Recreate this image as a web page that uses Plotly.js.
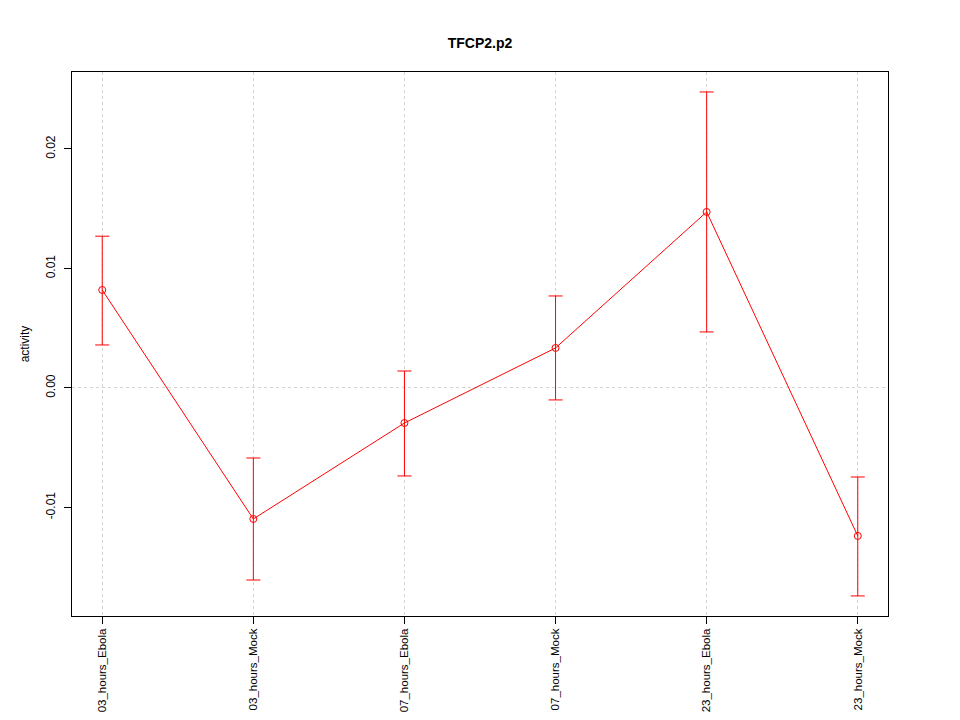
<!DOCTYPE html>
<html>
<head>
<meta charset="utf-8">
<script src="https://cdn.plot.ly/plotly-3.0.1.min.js"></script>
<style>html,body{margin:0;padding:0;background:#fff;}#chart{width:960px;height:720px;}</style>
</head>
<body>
<div id="chart"></div>
<script>
const categories = ["03_hours_Ebola","03_hours_Mock","07_hours_Ebola","07_hours_Mock","23_hours_Ebola","23_hours_Mock"];
const activity = [0.0082, -0.01096, -0.00293, 0.00335, 0.01473, -0.01238];
const upper = [0.0127, -0.00586, 0.00142, 0.0077, 0.02477, -0.00745];
const lower = [0.0036, -0.01607, -0.00736, -0.0010, 0.00469, -0.0174];
const yTicks = [-0.01, 0.00, 0.01, 0.02];
const yTickLabels = ["-0.01", "0.00", "0.01", "0.02"];

const errPlus = upper.map((u, i) => u - activity[i]);
const errMinus = activity.map((a, i) => a - lower[i]);
const red = "#ff0000";
const font = "Liberation Sans, Arial, Helvetica, sans-serif";

const trace = {
  x: categories,
  y: activity,
  type: "scatter",
  mode: "lines+markers",
  line: {color: red, width: 1},
  marker: {symbol: "circle-open", size: 7, color: red, line: {width: 1, color: red}},
  error_y: {type: "data", symmetric: false, array: errPlus, arrayminus: errMinus, color: red, thickness: 1, width: 7},
  showlegend: false,
  hoverinfo: "none"
};

const layout = {
  width: 960, height: 720,
  paper_bgcolor: "#fff", plot_bgcolor: "#fff",
  margin: {l: 72, r: 72, t: 72, b: 104},
  title: {text: "<b>TFCP2.p2</b>", font: {family: font, size: 14, color: "#000"}, x: 0.5, xanchor: "center", y: 0.94, yanchor: "middle"},
  xaxis: {
    type: "category", range: [-0.2, 5.2],
    showline: true, mirror: true, linecolor: "#000", linewidth: 1,
    ticks: "outside", ticklen: 7, tickcolor: "#000",
    tickangle: -90, tickfont: {family: font, size: 11.5, color: "#000"},
    showgrid: true, gridcolor: "#d3d3d3", griddash: "dot", gridwidth: 1,
    zeroline: false, fixedrange: true
  },
  yaxis: {
    range: [-0.01908, 0.02644],
    tickvals: yTicks, ticktext: yTickLabels,
    showline: true, mirror: true, linecolor: "#000", linewidth: 1,
    ticks: "outside", ticklen: 7, tickcolor: "#000",
    tickangle: -90, tickfont: {family: font, size: 12, color: "#000"},
    ticklabelstandoff: 4,
    showgrid: false, zeroline: false,
    title: {text: "activity", font: {family: font, size: 12, color: "#000"}, standoff: 12},
    fixedrange: true
  },
  yaxis2: {
    overlaying: "y", range: [-0.01908, 0.02644],
    tickvals: [0], showticklabels: false, ticks: "",
    showgrid: true, gridcolor: "#d3d3d3", griddash: "dot", gridwidth: 1,
    zeroline: false, showline: false, fixedrange: true
  }
};

const gridTrace = {x: [categories[0]], y: [0], xaxis: "x", yaxis: "y2", mode: "markers", marker: {opacity: 0}, showlegend: false, hoverinfo: "none"};

Plotly.newPlot("chart", [gridTrace, trace], layout, {displayModeBar: false, staticPlot: true});
</script>
</body>
</html>
